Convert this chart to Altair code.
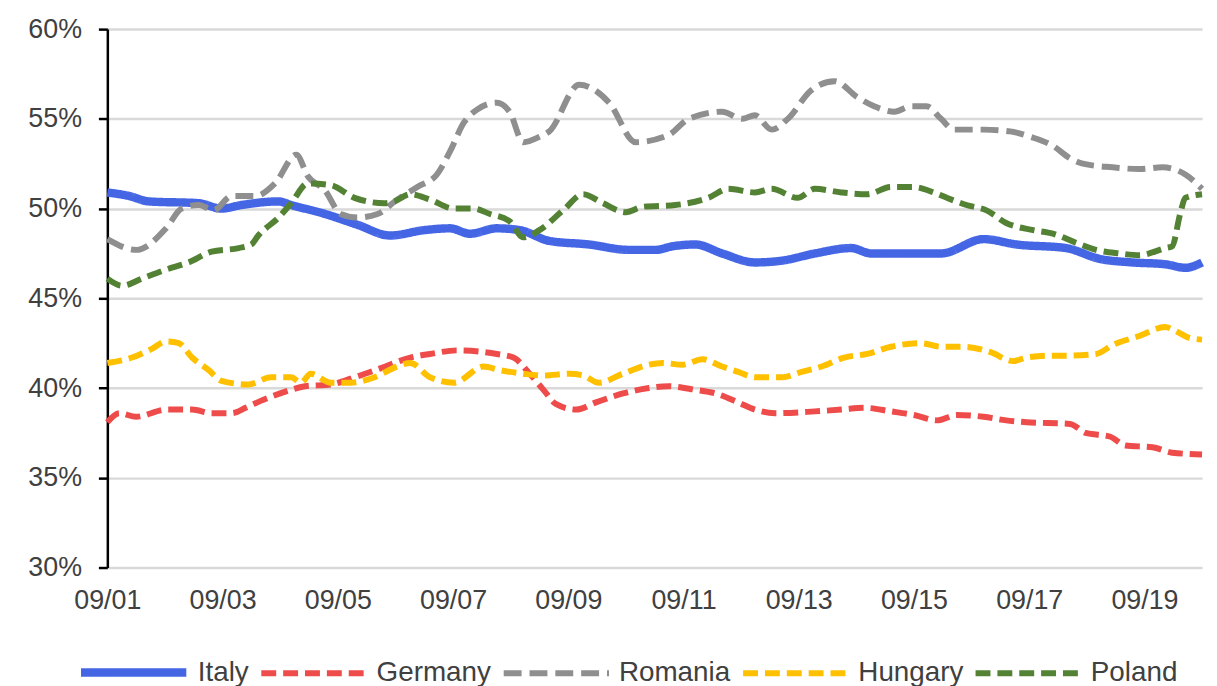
import json
import altair as alt
import pandas as pd

# x = years since 09/01 (09/01 -> 0, 09/19 -> 18); values in percent
X_TICK_LABELS = ["09/01", "09/03", "09/05", "09/07", "09/09", "09/11",
                 "09/13", "09/15", "09/17", "09/19"]
X_TICK_VALUES = [0, 2, 4, 6, 8, 10, 12, 14, 16, 18]
Y_TICK_VALUES = [30, 35, 40, 45, 50, 55, 60]

COUNTRIES = ["Italy", "Germany", "Romania", "Hungary", "Poland"]
COLORS = ["#4466E4", "#EE4B4B", "#8F8F8F", "#FFC000", "#548235"]

italy_x = [0, 0.38, 0.72, 1.59, 1.98, 2.33, 2.97, 3.19, 3.78, 4.34,
           4.91, 5.50, 5.95, 6.29, 6.76, 7.16, 7.67, 8.36, 9.05, 9.52,
           9.81, 10.21, 10.67, 11.24, 11.71, 12.28, 12.91, 13.26, 13.78, 14.47,
           15.21, 15.78, 16.64, 17.22, 17.79, 18.36, 18.71, 19.0]
italy_y = [50.9, 50.7, 50.4, 50.3, 50.0, 50.2, 50.4, 50.2, 49.7, 49.1,
           48.5, 48.8, 48.9, 48.6, 48.9, 48.8, 48.2, 48.0, 47.7, 47.7,
           47.9, 48.0, 47.5, 47.0, 47.1, 47.5, 47.8, 47.5, 47.5, 47.5,
           48.3, 48.0, 47.8, 47.2, 47.0, 46.9, 46.7, 47.0]

germany_x = [0, 0.21, 0.50, 1.02, 1.47, 1.81, 2.16, 2.40, 2.67, 3.09,
             3.43, 3.88, 4.29, 4.74, 5.26, 5.60, 6.07, 6.76, 7.05, 7.33,
             7.57, 7.79, 8.14, 8.48, 8.95, 9.40, 9.74, 10.21, 10.55, 10.95,
             11.24, 11.59, 12.28, 12.74, 13.14, 13.60, 14.00, 14.40, 14.74, 15.21,
             15.60, 15.95, 16.71, 16.98, 17.40, 17.67, 18.14, 18.48, 19.0]
germany_y = [38.1, 38.6, 38.4, 38.8, 38.8, 38.6, 38.6, 38.9, 39.3, 39.8,
             40.1, 40.2, 40.6, 41.1, 41.7, 41.9, 42.1, 41.9, 41.7, 40.8,
             39.9, 39.1, 38.8, 39.2, 39.7, 40.0, 40.1, 39.9, 39.7, 39.2,
             38.8, 38.6, 38.7, 38.8, 38.9, 38.7, 38.5, 38.2, 38.5, 38.4,
             38.2, 38.1, 38.0, 37.5, 37.3, 36.8, 36.7, 36.4, 36.3]

romania_x = [0, 0.50, 1.02, 1.29, 1.59, 1.84, 2.16, 2.57, 2.91, 3.28,
             3.48, 3.78, 4.05, 4.34, 4.69, 5.03, 5.38, 5.72, 5.95, 6.19,
             6.41, 6.76, 6.98, 7.22, 7.50, 7.67, 8.19, 8.71, 9.17, 9.74,
             10.09, 10.67, 11.02, 11.24, 11.53, 11.81, 12.22, 12.62, 13.02, 13.31,
             13.66, 13.95, 14.22, 14.47, 14.69, 15.21, 15.67, 16.02, 16.41, 16.71,
             16.93, 17.45, 17.91, 18.31, 18.71, 19.0]
romania_y = [48.3, 47.7, 48.9, 50.0, 50.2, 49.9, 50.7, 50.7, 51.4, 53.0,
             51.8, 51.0, 49.7, 49.5, 49.7, 50.5, 51.2, 51.9, 53.2, 54.8,
             55.5, 55.9, 55.4, 53.7, 54.0, 54.3, 56.9, 55.9, 53.7, 54.1,
             55.0, 55.4, 55.0, 55.2, 54.4, 55.0, 56.6, 57.1, 56.2, 55.7,
             55.4, 55.7, 55.7, 55.0, 54.4, 54.4, 54.3, 54.0, 53.5, 52.8,
             52.5, 52.3, 52.2, 52.3, 51.9, 51.1]

hungary_x = [0, 0.43, 0.78, 1.02, 1.24, 1.47, 1.76, 1.98, 2.45, 2.84,
             3.19, 3.36, 3.53, 3.88, 4.22, 4.64, 5.03, 5.26, 5.60, 6.02,
             6.53, 6.81, 7.22, 7.57, 8.02, 8.26, 8.53, 8.95, 9.40, 9.64,
             9.98, 10.33, 10.67, 10.95, 11.24, 11.71, 12.05, 12.40, 12.79, 13.19,
             13.60, 14.12, 14.47, 14.86, 15.33, 15.72, 15.95, 16.36, 16.59, 17.16,
             17.45, 17.91, 18.36, 18.53, 18.78, 19.0]
hungary_y = [41.4, 41.7, 42.2, 42.6, 42.5, 41.7, 41.0, 40.4, 40.2, 40.6,
             40.6, 40.3, 40.8, 40.3, 40.3, 40.6, 41.2, 41.4, 40.6, 40.3,
             41.2, 41.0, 40.8, 40.7, 40.8, 40.7, 40.3, 40.8, 41.3, 41.4,
             41.3, 41.6, 41.2, 40.9, 40.6, 40.6, 40.9, 41.2, 41.7, 41.9,
             42.3, 42.5, 42.3, 42.3, 42.0, 41.5, 41.7, 41.8, 41.8, 41.9,
             42.4, 42.9, 43.4, 43.2, 42.8, 42.7]

poland_x = [0, 0.26, 0.60, 1.02, 1.41, 1.81, 2.28, 2.50, 2.62, 2.97,
            3.19, 3.48, 3.88, 4.29, 4.81, 4.98, 5.26, 5.60, 6.02, 6.36,
            6.64, 6.98, 7.22, 7.50, 7.91, 8.26, 8.60, 9.00, 9.29, 9.86,
            10.43, 10.78, 11.24, 11.53, 11.98, 12.28, 12.74, 13.19, 13.60, 14.00,
            14.34, 14.57, 14.91, 15.26, 15.60, 16.07, 16.41, 16.81, 17.16, 17.57,
            17.91, 18.36, 18.48, 18.62, 18.71, 19.0]
poland_y = [46.1, 45.7, 46.1, 46.6, 47.0, 47.6, 47.8, 48.0, 48.5, 49.5,
            50.3, 51.4, 51.3, 50.6, 50.3, 50.4, 50.8, 50.5, 50.0, 50.0,
            49.7, 49.3, 48.4, 48.8, 49.9, 50.8, 50.3, 49.8, 50.1, 50.2,
            50.6, 51.1, 50.9, 51.1, 50.6, 51.1, 50.9, 50.8, 51.2, 51.2,
            50.9, 50.6, 50.2, 49.9, 49.2, 48.8, 48.6, 48.1, 47.7, 47.5,
            47.4, 47.8, 47.9, 49.7, 50.6, 50.8]

series = {
    "Italy": (italy_x, italy_y),
    "Germany": (germany_x, germany_y),
    "Romania": (romania_x, romania_y),
    "Hungary": (hungary_x, hungary_y),
    "Poland": (poland_x, poland_y),
}
rows = []
for name, (xs, ys) in series.items():
    for i, (xv, yv) in enumerate(zip(xs, ys)):
        rows.append({"country": name, "t": xv, "value": yv, "i": i})
df = pd.DataFrame(rows)

FONT = "Liberation Sans"
label_lookup = json.dumps(X_TICK_LABELS)

legend = alt.Legend(
    title=None,
    symbolStrokeWidth=alt.ExprRef("datum.value === 'Italy' ? 9 : 5.5"),
)

chart = alt.Chart(df).mark_line(interpolate="monotone").encode(
    x=alt.X("t:Q", scale=alt.Scale(domain=[0, 19], nice=False, zero=False),
            axis=alt.Axis(values=X_TICK_VALUES, title=None, grid=False, domain=False,
                          ticks=False, labelFlush=False,
                          labelExpr=f"{label_lookup}[round(datum.value/2)]",
                          labelFont=FONT, labelFontSize=27, labelColor="#404040",
                          labelPadding=20, labelBaseline="top")),
    y=alt.Y("value:Q", scale=alt.Scale(domain=[30, 60], nice=False, zero=False),
            axis=alt.Axis(values=Y_TICK_VALUES, title=None, grid=True,
                          gridColor="#D9D9D9", gridWidth=2.5,
                          domain=True, domainColor="#000000", domainWidth=2.5,
                          ticks=True, tickColor="#000000", tickWidth=2.5, tickSize=9,
                          labelExpr="datum.value + '%'", labelFlush=False,
                          labelFont=FONT, labelFontSize=27, labelColor="#404040",
                          labelPadding=17)),
    color=alt.Color("country:N", scale=alt.Scale(domain=COUNTRIES, range=COLORS),
                    legend=legend),
    strokeDash=alt.StrokeDash("country:N",
                              scale=alt.Scale(domain=COUNTRIES,
                                              range=[[1, 0], [15, 7], [18, 8], [15, 7], [15, 7]]),
                              legend=legend),
    strokeWidth=alt.StrokeWidth("country:N",
                                scale=alt.Scale(type="ordinal", domain=COUNTRIES,
                                                range=[8.5, 6, 6, 6, 6]),
                                legend=legend),
    detail="country:N",
    order="i:Q",
).properties(
    width=1102,
    height=542,
    autosize=alt.AutoSizeParams(type="none"),
    padding={"left": 100, "top": 19, "right": 7, "bottom": 117},
).configure_view(
    stroke=None
).configure_legend(
    orient="none",
    legendX=-31,
    legendY=590,
    direction="horizontal",
    labelFont=FONT,
    labelFontSize=28,
    labelColor="#404040",
    labelOffset=7,
    columnPadding=0,
    symbolSize=11236,
    symbolType="stroke",
    padding=0,
)

chart.save("out.html", embed_options={"renderer": "svg", "actions": False})
